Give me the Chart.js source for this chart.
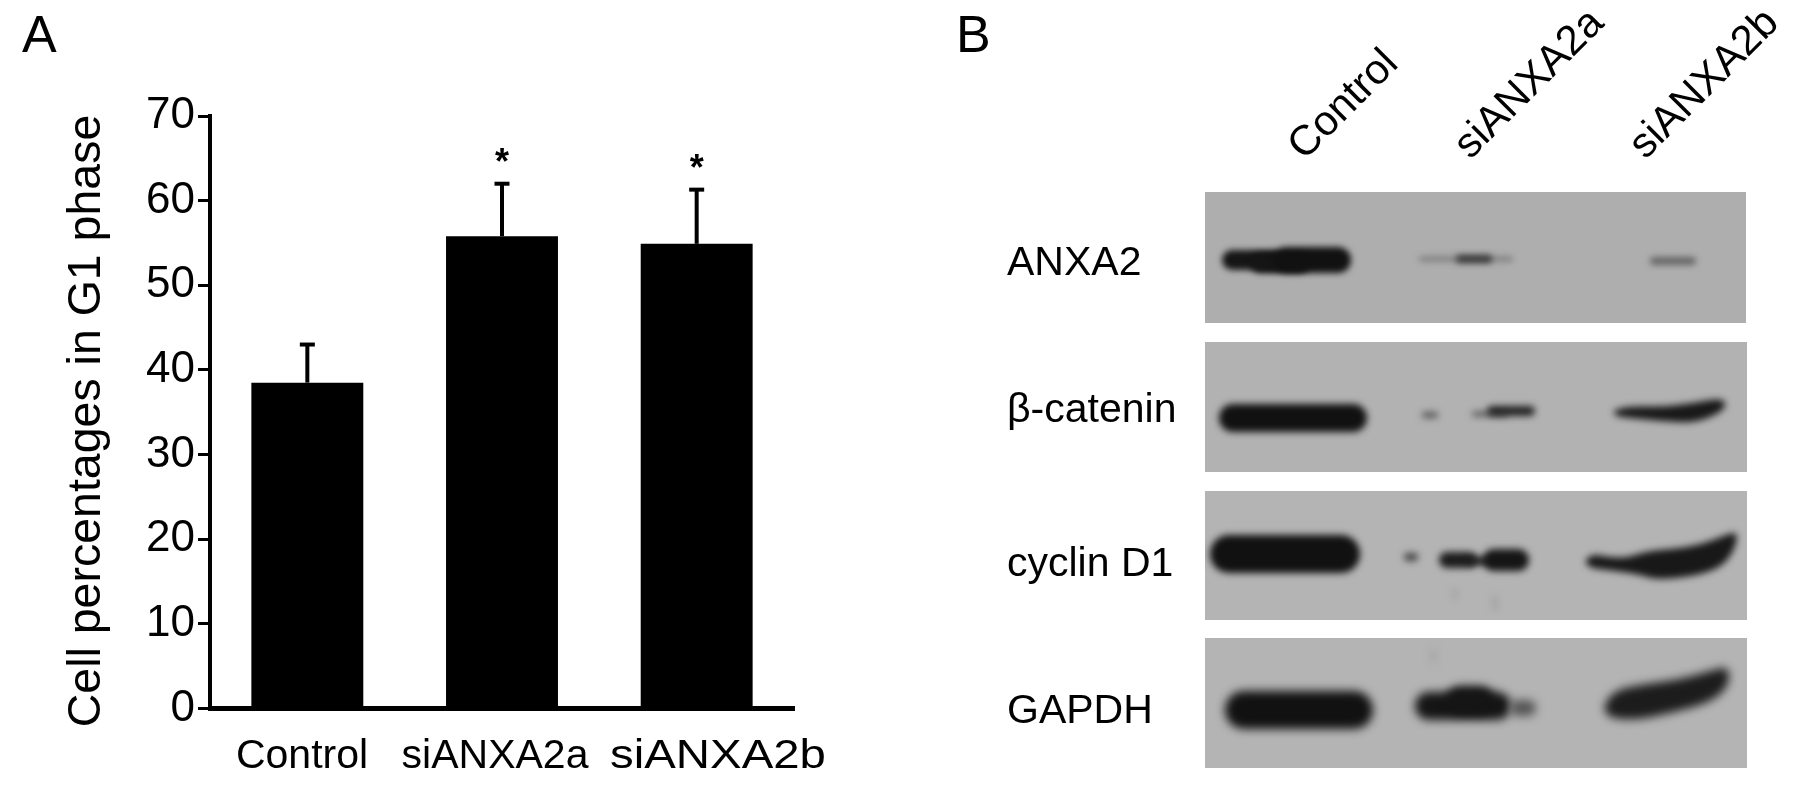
<!DOCTYPE html>
<html>
<head>
<meta charset="utf-8">
<title>G1 phase</title>
<script src="https://cdn.jsdelivr.net/npm/chart.js@4"></script>
<style>
  html, body { margin: 0; padding: 0; background: #fff; }
  canvas { display: block; }
</style>
</head>
<body>
<canvas id="g1Chart" width="1795" height="788"></canvas>
<script>
// bar chart values
var categories = ['Control', 'siANXA2a', 'siANXA2b'];
var g1Percent = [38.5, 55.8, 54.9];
var g1ErrorTop = [43.0, 62.0, 61.3];
var significance = ['', '*', '*'];

// panel B text
var laneLabels = ['Control', 'siANXA2a', 'siANXA2b'];
var blotNames = ['ANXA2', '\u03b2-catenin', 'cyclin D1', 'GAPDH'];

// western blot bands, relative to each blot's corner:
// [x, y, rx, ry, shade] for a soft lobe, [shade, outline] for a tapered band
var anxa2Bands = [
  [48, 68, 31, 10, '#151515'], [75, 71, 30, 10, '#151515'], [107, 68, 39, 13, '#111'],
  [261, 67, 47, 2.5, '#7d7d7d'], [269, 67, 18, 4, '#3a3a3a'],
  [468, 69, 23, 4, '#666']
];
var cateninBands = [
  [88, 76, 74, 14, '#111'],
  [225, 73, 8, 3, '#555'], [285, 72, 18, 2.5, '#555'], [306, 69, 24, 5, '#222'],
  ['#181818', [[407, 69], [424, 64], [457, 65], [489, 61], [516, 56], [522, 63], [513, 72], [489, 81], [457, 79], [424, 76], [411, 74]]]
];
var cyclinBands = [
  [80, 63, 75, 19, '#111'],
  [206, 66, 7, 4, '#444'], [253, 69, 19, 8, '#1c1c1c'], [275, 70, 12, 4, '#1c1c1c'], [301, 69, 23, 11, '#151515'],
  ['#181818', [[379, 70], [388, 63], [402, 66], [422, 67], [442, 60], [468, 58], [495, 54], [518, 45], [533, 40], [530, 58], [517, 76], [490, 85], [452, 89], [432, 83], [402, 79], [385, 77]]],
  [250, 103, 1, 5, '#888'], [290, 112, 1, 8, '#8a8a8a']
];
var gapdhBands = [
  [94, 72, 74, 19, '#111'],
  [258, 68, 48, 14, '#151515'], [265, 62, 24, 14, '#151515'], [318, 70, 13, 8, '#555'],
  ['#1c1c1c', [[398, 68], [410, 52], [440, 46], [473, 42], [505, 33], [524, 28], [524, 48], [506, 64], [470, 74], [432, 82], [403, 80]]],
  [228, 18, 1, 7, '#858585']
];
var blotBands = [anxa2Bands, cateninBands, cyclinBands, gapdhBands];

// layout of the figure, in page pixels
var FONT = '"Liberation Sans", Arial, sans-serif';
var blotBoxes = [
  { x: 1205, y: 192, w: 541, h: 131, bg: '#aeaeae', labelY: 264, blur: 3 },
  { x: 1205, y: 342, w: 542, h: 130, bg: '#b2b2b2', labelY: 411, blur: 3.5 },
  { x: 1205, y: 491, w: 542, h: 129, bg: '#b4b4b4', labelY: 565, blur: 3.5 },
  { x: 1205, y: 638, w: 542, h: 130, bg: '#b4b4b4', labelY: 712, blur: 5 }
];
var laneStarts = [[1296, 153], [1462, 152], [1637, 152]];
var xLabelCenters = [302, 495, 718];
var xLabelStretch = [1, 1, 1.155];

function drawText(ctx, text, x, y, font, align, angle, stretch) {
  ctx.save();
  ctx.translate(x, y);
  if (angle) ctx.rotate(angle);
  if (stretch) ctx.scale(stretch, 1);
  ctx.font = font;
  ctx.fillStyle = '#000';
  ctx.textAlign = align || 'left';
  ctx.textBaseline = 'middle';
  ctx.fillText(text, 0, 0);
  ctx.restore();
}

// smooth closed curve through the midpoints of an outline
function outlinePath(ctx, ox, oy, pts) {
  var n = pts.length;
  ctx.beginPath();
  ctx.moveTo(ox + (pts[n - 1][0] + pts[0][0]) / 2, oy + (pts[n - 1][1] + pts[0][1]) / 2);
  pts.forEach(function(p, i) {
    var q = pts[(i + 1) % n];
    ctx.quadraticCurveTo(ox + p[0], oy + p[1], ox + (p[0] + q[0]) / 2, oy + (p[1] + q[1]) / 2);
  });
  ctx.closePath();
}

// error whiskers, stars, x labels and axis title for panel A
var panelAPlugin = {
  id: 'panelA',
  afterDatasetsDraw: function(chart) {
    var ctx = chart.ctx;
    var x = chart.scales.x, y = chart.scales.y;
    ctx.save();
    ctx.strokeStyle = '#000';
    categories.forEach(function(cat, i) {
      var cx = x.getPixelForValue(i);
      var top = y.getPixelForValue(g1ErrorTop[i]);
      ctx.lineWidth = 4;
      ctx.beginPath();
      ctx.moveTo(cx, y.getPixelForValue(g1Percent[i]));
      ctx.lineTo(cx, top);
      ctx.stroke();
      ctx.beginPath();
      ctx.moveTo(cx - 7.5, top);
      ctx.lineTo(cx + 7.5, top);
      ctx.stroke();
      if (significance[i]) {
        drawText(ctx, significance[i], cx, top - 20, 'bold 36px ' + FONT, 'center');
      }
      drawText(ctx, cat, xLabelCenters[i], 757, '41px ' + FONT, 'center', 0, xLabelStretch[i]);
    });
    ctx.restore();
    drawText(ctx, 'Cell percentages in G1 phase', 87, 421, '46.5px ' + FONT, 'center', -Math.PI / 2);
    drawText(ctx, 'A', 22, 38, '52px ' + FONT);
  }
};

// panel B is the gel photo, painted as soft blurred shapes
var panelBPlugin = {
  id: 'panelB',
  afterDraw: function(chart) {
    var ctx = chart.ctx;
    drawText(ctx, 'B', 956, 38, '52px ' + FONT);
    laneLabels.forEach(function(label, i) {
      drawText(ctx, label, laneStarts[i][0], laneStarts[i][1], '42px ' + FONT, 'left', -Math.PI / 4);
    });
    blotBoxes.forEach(function(box, i) {
      ctx.save();
      ctx.beginPath();
      ctx.rect(box.x, box.y, box.w, box.h);
      ctx.clip();
      ctx.fillStyle = box.bg;
      ctx.fillRect(box.x, box.y, box.w, box.h);
      ctx.filter = 'blur(' + box.blur + 'px)';
      blotBands[i].forEach(function(b) {
        if (b.length === 2) {
          ctx.fillStyle = b[0];
          outlinePath(ctx, box.x, box.y, b[1]);
        } else {
          ctx.fillStyle = b[4];
          ctx.beginPath();
          ctx.roundRect(box.x + b[0] - b[2], box.y + b[1] - b[3], b[2] * 2, b[3] * 2, Math.min(b[2], b[3]));
        }
        ctx.fill();
      });
      ctx.restore();
      drawText(ctx, blotNames[i], 1007, box.labelY, '41px ' + FONT);
    });
  }
};

new Chart(document.getElementById('g1Chart'), {
  type: 'bar',
  data: {
    labels: categories,
    datasets: [{
      data: g1Percent,
      backgroundColor: '#000',
      categoryPercentage: 1,
      barPercentage: 0.575
    }]
  },
  options: {
    responsive: false,
    animation: false,
    layout: { padding: { left: 0, top: 116, right: 1001, bottom: 79.5 } },
    plugins: { legend: { display: false }, tooltip: { enabled: false } },
    scales: {
      x: {
        ticks: { display: false },
        grid: { display: false },
        border: { color: '#000', width: 5 },
        afterFit: function(scale) { scale.height = 0; }
      },
      y: {
        min: 0,
        max: 70,
        ticks: { stepSize: 10, color: '#000', padding: 3, font: { family: FONT, size: 44 } },
        grid: { drawOnChartArea: false, tickLength: 12, tickWidth: 3, tickColor: '#000' },
        border: { color: '#000', width: 4 },
        afterFit: function(scale) { scale.width = 210; }
      }
    }
  },
  plugins: [panelAPlugin, panelBPlugin]
});
</script>
</body>
</html>
